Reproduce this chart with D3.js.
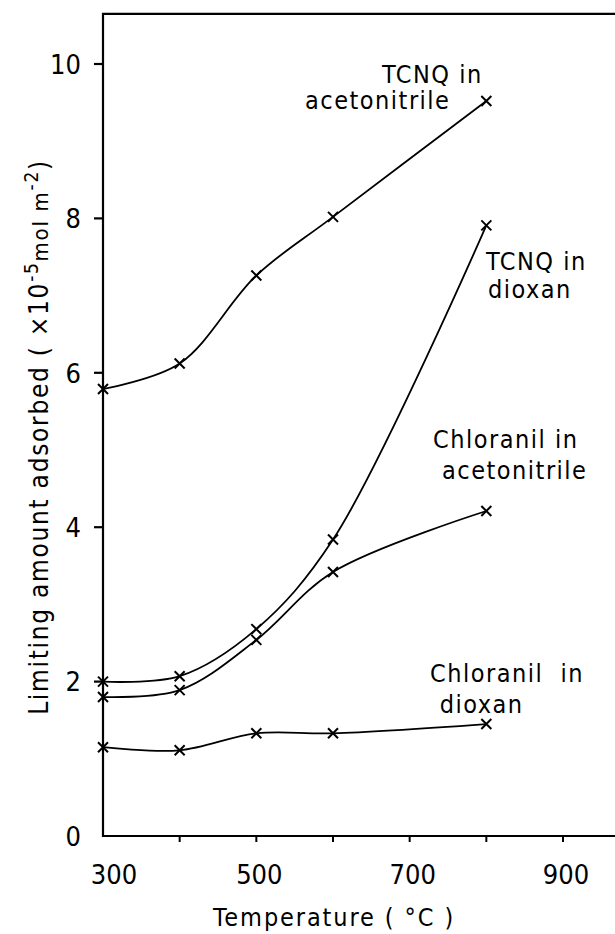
<!DOCTYPE html>
<html>
<head>
<meta charset="utf-8">
<script src="https://cdn.jsdelivr.net/npm/d3@7"></script>
<style>
body { margin: 0; background: #fff; }
svg text { font-family: "DejaVu Sans Condensed", "DejaVu Sans", sans-serif; fill: #000; }
</style>
</head>
<body>
<div id="chart"></div>
<script>

// temperatures (°C) at which each sample was measured
var temps = [300, 400, 500, 600, 800];

// limiting amount adsorbed, x10^-5 mol m^-2
var tcnqAcetonitrile = [5.79, 6.12, 7.26, 8.02, 9.52];
var tcnqDioxan = [2.00, 2.07, 2.68, 3.84, 7.91];
var chloranilAcetonitrile = [1.80, 1.89, 2.54, 3.42, 4.21];
var chloranilDioxan = [1.15, 1.11, 1.33, 1.33, 1.45];

var seriesNames = [["TCNQ in", "acetonitrile"], ["TCNQ in", "dioxan"],
                   ["Chloranil in", "acetonitrile"], ["Chloranil  in", " dioxan"]];

var xTicks = [300, 400, 500, 600, 700, 800, 900];
var xLabels = [300, 500, 700, 900];
var yTicks = [0, 2, 4, 6, 8, 10];

var width = 615, height = 934;

var x = d3.scaleLinear().domain([300, 900]).range([103, 563]);
var y = d3.scaleLinear().domain([0, 10]).range([836, 64]);
var xEnd = 980, yTop = 10.65;

var svg = d3.select("#chart").append("svg")
    .attr("width", width)
    .attr("height", height);

// frame: left axis, bottom axis, top line (right side runs off the page)
svg.append("path")
    .attr("d", "M" + x(xEnd) + "," + y(yTop) + "H" + x(300) + "V" + y(0) + "H" + x(xEnd))
    .attr("fill", "none")
    .attr("stroke", "#000")
    .attr("stroke-width", 2.2);

// x ticks + labels
var xAxis = svg.append("g").attr("transform", "translate(0," + y(0) + ")");
xAxis.selectAll("line.tk")
    .data(xTicks.slice(1))
    .enter().append("line")
    .attr("x1", function(d) { return x(d); })
    .attr("x2", function(d) { return x(d); })
    .attr("y1", 0).attr("y2", 6)
    .attr("stroke", "#000").attr("stroke-width", 2);
xAxis.selectAll("text")
    .data(xLabels)
    .enter().append("text")
    .attr("x", function(d) { return x(d) + (d == 300 ? 11 : 3); })
    .attr("y", 48)
    .attr("text-anchor", "middle")
    .attr("font-size", 27)
    .text(function(d) { return d; });

// y ticks + labels
var yAxis = svg.append("g").attr("transform", "translate(" + x(300) + ",0)");
yAxis.selectAll("line.tk")
    .data(yTicks.slice(1))
    .enter().append("line")
    .attr("x1", -9).attr("x2", 0)
    .attr("y1", function(d) { return y(d); })
    .attr("y2", function(d) { return y(d); })
    .attr("stroke", "#000").attr("stroke-width", 2.2);
yAxis.selectAll("text")
    .data(yTicks)
    .enter().append("text")
    .attr("x", -22)
    .attr("y", function(d) { return y(d); })
    .attr("dy", "0.36em")
    .attr("text-anchor", "end")
    .attr("font-size", 27)
    .text(function(d) { return d; });

// axis titles
svg.append("text")
    .attr("x", 334)
    .attr("y", 926)
    .attr("text-anchor", "middle")
    .attr("font-size", 25)
    .attr("letter-spacing", 1.9)
    .text("Temperature ( \u00b0C )");

var ylab = svg.append("text")
    .attr("transform", "translate(48,437) rotate(-90)")
    .attr("text-anchor", "middle")
    .attr("font-size", 26)
    .attr("letter-spacing", 1.7);
ylab.append("tspan").text("Limiting amount adsorbed ( \u00d710");
ylab.append("tspan").attr("font-size", 19).attr("dy", -10).text("-5");
ylab.append("tspan").attr("font-size", 22).attr("dy", 10).text("mol m");
ylab.append("tspan").attr("font-size", 19).attr("dy", -10).text("-2");
ylab.append("tspan").attr("dy", 10).text(")");

// curves
var series = [tcnqAcetonitrile, tcnqDioxan, chloranilAcetonitrile, chloranilDioxan];
var line = d3.line()
    .x(function(d, i) { return x(temps[i]); })
    .y(function(d) { return y(d); })
    .curve(d3.curveCatmullRom.alpha(0.5));

for (var s = 0; s < series.length; s++) {
    svg.append("path")
        .attr("d", line(series[s]))
        .attr("fill", "none")
        .attr("stroke", "#000")
        .attr("stroke-width", 1.8);

    svg.selectAll("path.m" + s)
        .data(series[s])
        .enter().append("path")
        .attr("class", "m" + s)
        .attr("transform", function(d, i) { return "translate(" + x(temps[i]) + "," + y(d) + ")"; })
        .attr("d", "M-5,-5L5,5M-5,5L5,-5")
        .attr("stroke", "#000")
        .attr("stroke-width", 2);
}

// series labels, placed near the end of each curve
var labelPos = [[382, 83, 305, 109], [486, 270, 488, 298], [433, 448, 442, 479], [430, 682, 431, 713]];
for (var j = 0; j < seriesNames.length; j++) {
    var p = labelPos[j];
    var t = svg.append("text").attr("font-size", 25).attr("letter-spacing", 1.5).attr("xml:space", "preserve");
    t.append("tspan").attr("x", p[0]).attr("y", p[1]).text(seriesNames[j][0]);
    t.append("tspan").attr("x", p[2]).attr("y", p[3]).text(seriesNames[j][1]);
}

</script>
</body>
</html>
